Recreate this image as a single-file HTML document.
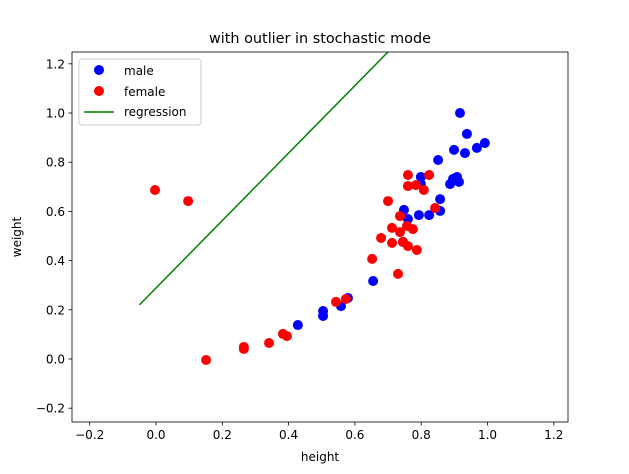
<!DOCTYPE html>
<html><head><meta charset="utf-8"><style>
body{margin:0;background:#fff;}
svg{display:block;font-family:"DejaVu Sans","Liberation Sans",sans-serif;}
</style></head><body>
<svg id="chart" width="629" height="474" viewBox="0 0 629 474" xmlns="http://www.w3.org/2000/svg">
<rect width="629" height="474" fill="#fff"/>
<text x="320" y="43" font-size="14.4" text-anchor="middle">with outlier in stochastic mode</text>
<defs><clipPath id="clip"><rect x="72" y="52" width="496" height="370"/></clipPath></defs>
<g id="marks" clip-path="url(#clip)"></g>
<g id="axes"></g>
<text x="320" y="461" font-size="12" text-anchor="middle">height</text>
<text x="21" y="237" font-size="12" text-anchor="middle" transform="rotate(-90 21 237)">weight</text>
<g>
<rect x="79" y="59" width="122" height="66" rx="3" fill="#fff" stroke="#ccc" stroke-width="1"/>
<circle cx="99" cy="70" r="5" fill="#0000ff"/>
<text x="124" y="75" font-size="12">male</text>
<circle cx="99" cy="91" r="5" fill="#ff0000"/>
<text x="124" y="96" font-size="12">female</text>
<line x1="84" y1="112" x2="114" y2="112" stroke="#008000" stroke-width="1.5"/>
<text x="124" y="116" font-size="12">regression</text>
</g>
</svg>
<script>
const maleX=[0.917,0.938,0.992,0.968,0.899,0.932,0.851,0.908,0.896,0.887,0.914,0.799,0.799,0.857,0.857,0.824,0.793,0.748,0.760,0.745,0.655,0.579,0.558,0.504,0.504,0.428];
const maleY=[1.0,0.915,0.878,0.858,0.850,0.837,0.809,0.740,0.732,0.711,0.720,0.740,0.711,0.650,0.602,0.585,0.585,0.606,0.569,0.476,0.317,0.248,0.215,0.195,0.175,0.138];
const femaleX=[0.760,0.824,0.760,0.784,0.808,0.700,0.842,0.736,0.712,0.757,0.775,0.736,0.679,0.712,0.745,0.760,0.787,0.652,0.730,0.573,0.543,0.395,0.383,0.341,0.265,0.265,0.151,0.097,-0.003];
const femaleY=[0.748,0.748,0.703,0.707,0.687,0.642,0.614,0.581,0.533,0.541,0.528,0.516,0.492,0.472,0.476,0.459,0.443,0.407,0.346,0.244,0.232,0.093,0.102,0.065,0.049,0.041,-0.004,0.642,0.687];
const regX=[-0.05,1.0];
const regY=[0.22,1.66];
const xTicks=[-0.2,0.0,0.2,0.4,0.6,0.8,1.0,1.2];
const yTicks=[-0.2,0.0,0.2,0.4,0.6,0.8,1.0,1.2];
const NS="http://www.w3.org/2000/svg";
const sx=v=>156+v*331.5, sy=v=>359-v*246;
const marks=document.getElementById('marks'), axes=document.getElementById('axes');
function mk(tag,attrs,parent){const e=document.createElementNS(NS,tag);for(const k in attrs)e.setAttribute(k,attrs[k]);parent.appendChild(e);return e;}
const rl=mk('line',{x1:sx(regX[0]),y1:sy(regY[0]),x2:sx(regX[1]),y2:sy(regY[1]),stroke:'#008000','stroke-width':1.5},marks);


maleX.forEach((x,i)=>{const c=mk('circle',{cx:sx(x),cy:sy(maleY[i]),r:5,fill:'#0000ff'},marks);

});
femaleX.forEach((x,i)=>{const c=mk('circle',{cx:sx(x),cy:sy(femaleY[i]),r:5,fill:'#ff0000'},marks);

});
const fr=mk('rect',{x:72,y:52,width:496,height:370,fill:'none',stroke:'#000','stroke-width':0.8},axes);


xTicks.forEach(t=>{const x=sx(t);mk('line',{x1:x,y1:422,x2:x,y2:425.5,stroke:'#000','stroke-width':0.8},axes);
const tx=mk('text',{x:x,y:439,'font-size':12,'text-anchor':'middle'},axes);tx.textContent=(t<0?'\u2212':'')+Math.abs(t).toFixed(1);

});
yTicks.forEach(t=>{const y=sy(t);mk('line',{x1:68.5,y1:y,x2:72,y2:y,stroke:'#000','stroke-width':0.8},axes);
const tx=mk('text',{x:65,y:y+4.5,'font-size':12,'text-anchor':'end'},axes);tx.textContent=(t<0?'\u2212':'')+Math.abs(t).toFixed(1);

});
</script>
</body></html>
